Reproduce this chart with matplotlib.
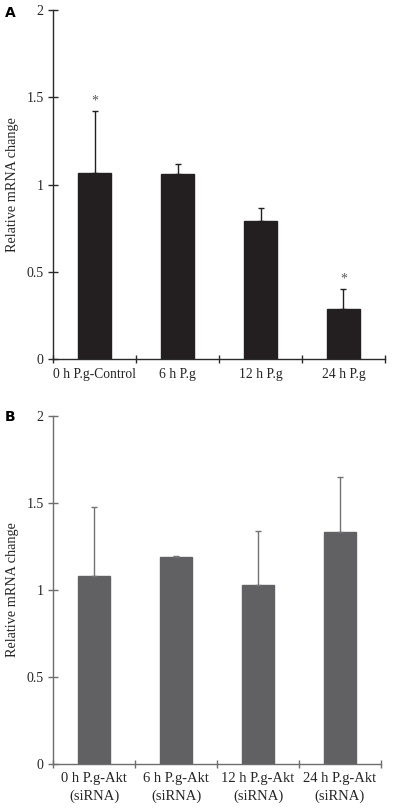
import numpy as np
import matplotlib.pyplot as plt

# panel A: P.g infection time course
labels_a = ["0 h P.g-Control", "6 h P.g", "12 h P.g", "24 h P.g"]
mean_a = [1.065, 1.06, 0.79, 0.29]
err_a = [0.355, 0.055, 0.075, 0.11]
star_a = [True, False, False, True]

# panel B: Akt siRNA
labels_b = ["0 h P.g-Akt\n(siRNA)", "6 h P.g-Akt\n(siRNA)",
            "12 h P.g-Akt\n(siRNA)", "24 h P.g-Akt\n(siRNA)"]
mean_b = [1.08, 1.19, 1.03, 1.335]
err_b = [0.40, 0.003, 0.31, 0.315]

yticks = [0, 0.5, 1, 1.5, 2]
ytick_labels = ["0", "0.5", "1", "1.5", "2"]

plt.rcParams["font.family"] = ["Liberation Serif", "DejaVu Serif"]


def bar_panel(ax, labels, mean, err, color, axis_color, err_color,
              label_size, stars=None):
    x = np.arange(len(labels))
    ax.bar(x, mean, width=0.4, color=color, edgecolor=color, zorder=2)
    ax.errorbar(x, mean, yerr=[np.zeros(len(err)), err], fmt="none",
                ecolor=err_color, elinewidth=1.0, capsize=2.5, capthick=1.0,
                zorder=3)
    if stars:
        for xi, m, e, s in zip(x, mean, err, stars):
            if s:
                ax.text(xi, m + e + 0.02, "*", ha="center", va="bottom",
                        fontsize=10, color="0.35")
    ax.set_xlim(-0.5, len(labels) - 0.5)
    ax.set_ylim(0, 2)
    ax.set_yticks(yticks)
    ax.set_yticklabels(ytick_labels)
    # category boundaries carry the x ticks, labels sit at the centres
    ax.set_xticks(np.arange(len(labels) + 1) - 0.5)
    ax.set_xticklabels([])
    ax.set_xticks(x, minor=True)
    ax.set_xticklabels(labels, minor=True, fontsize=label_size, color="0.15",
                       linespacing=1.45)
    ax.tick_params(axis="x", which="minor", length=0, pad=6)
    ax.tick_params(axis="x", which="major", direction="inout", length=6,
                   width=1, color=axis_color)
    ax.tick_params(axis="y", direction="inout", length=7.5, width=1,
                   color=axis_color, labelsize=10, labelcolor="0.15", pad=3)
    for side in ["top", "right"]:
        ax.spines[side].set_visible(False)
    for side in ["left", "bottom"]:
        ax.spines[side].set_color(axis_color)
        ax.spines[side].set_linewidth(1.0)
    ax.set_ylabel("Relative mRNA change", fontsize=10.3, color="0.15",
                  labelpad=5)


fig = plt.figure(figsize=(4, 8.11), dpi=100)
ax_a = fig.add_axes([0.1325, 0.557, 0.83, 0.431])
ax_b = fig.add_axes([0.1325, 0.058, 0.82, 0.429])

bar_panel(ax_a, labels_a, mean_a, err_a, "#231f20", "#2a2a2a", "#231f20",
          9.8, stars=star_a)
bar_panel(ax_b, labels_b, mean_b, err_b, "#616163", "#6e6e70", "#727274",
          10.5)

fig.text(0.012, 0.993, "A", fontsize=10, fontweight="bold",
         family="DejaVu Sans", va="top")
fig.text(0.012, 0.495, "B", fontsize=10, fontweight="bold",
         family="DejaVu Sans", va="top")

fig.savefig("out.png", dpi=100)
